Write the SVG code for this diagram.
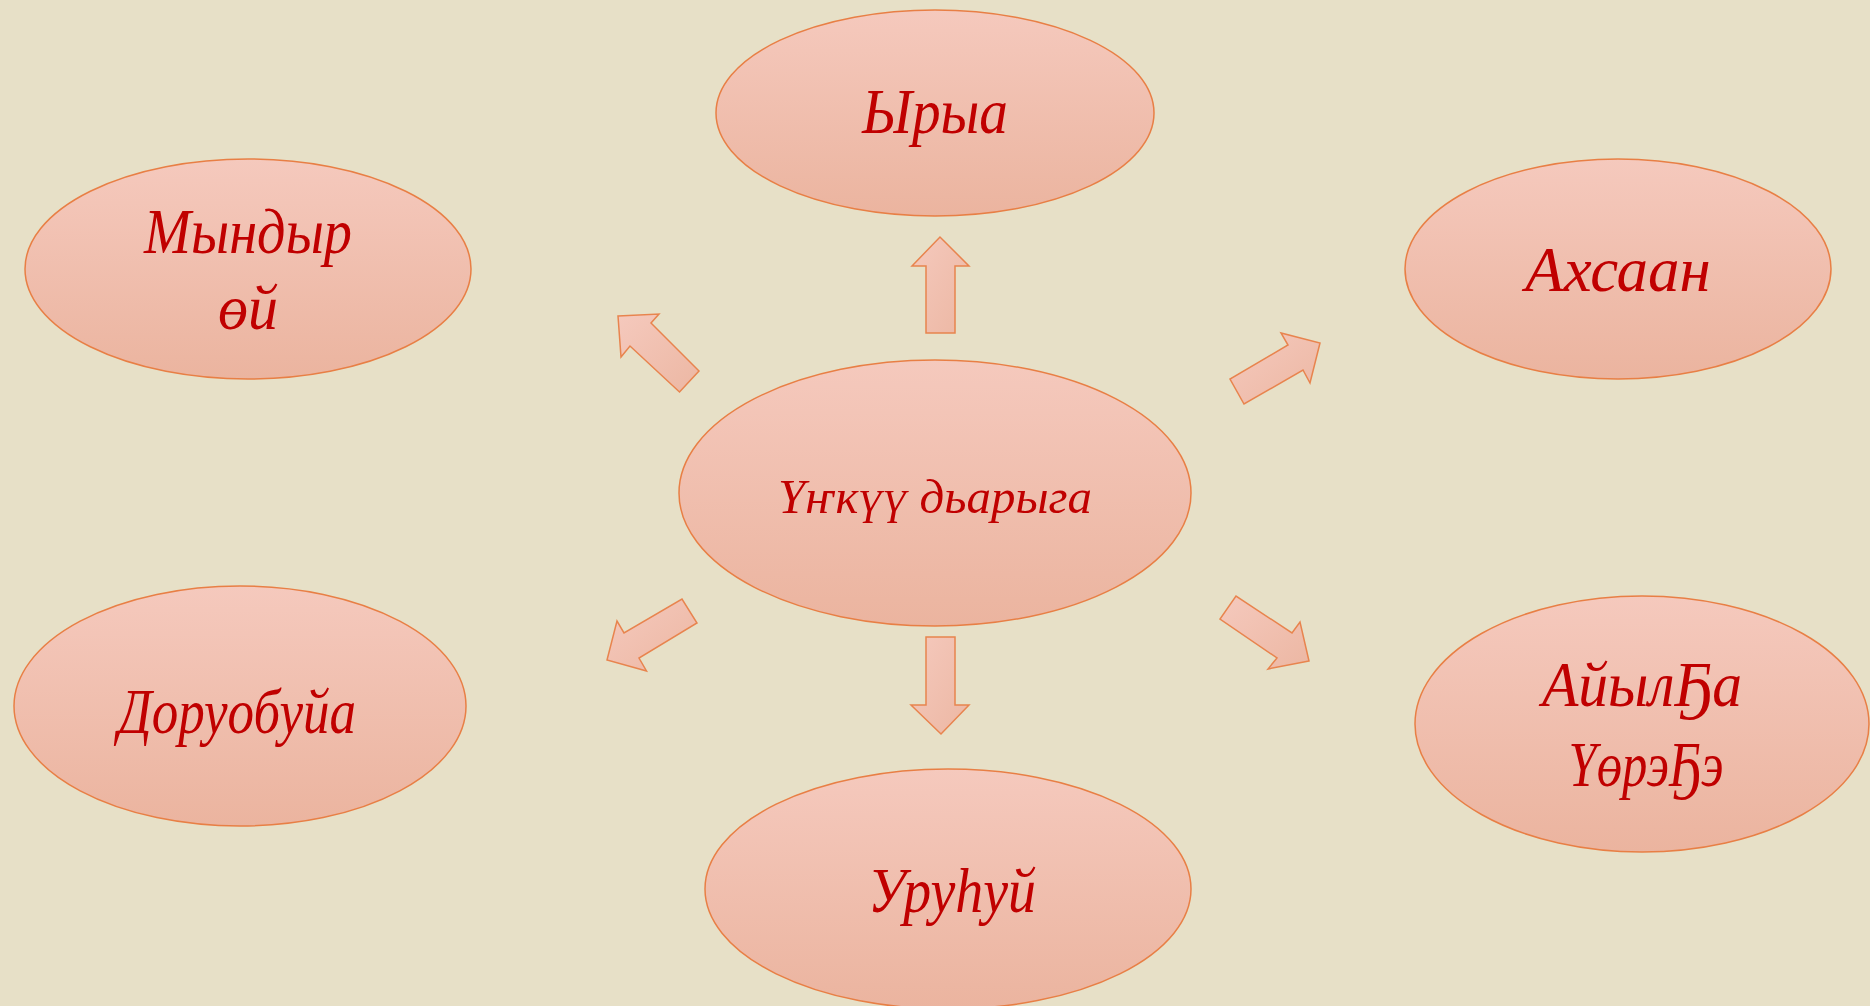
<svg xmlns="http://www.w3.org/2000/svg" width="1870" height="1006" viewBox="0 0 1870 1006">
<defs>
<linearGradient id="gEl" x1="0" y1="0" x2="0" y2="1">
<stop offset="0" stop-color="#F5C9BD"/>
<stop offset="1" stop-color="#EBB49F"/>
</linearGradient>
<linearGradient id="gAr" x1="0" y1="0" x2="1" y2="1">
<stop offset="0" stop-color="#F5C9BD"/>
<stop offset="1" stop-color="#ECB7A3"/>
</linearGradient>
<style>
.el{fill:url(#gEl);stroke:#E87F45;stroke-width:1.5}
.ar{fill:url(#gAr);stroke:#E8844E;stroke-width:1.5;stroke-linejoin:miter}
.t{font-family:"Liberation Serif","Times New Roman",serif;font-style:italic;fill:#C00000;text-anchor:middle}
.big{font-size:63px}
.mid{font-size:48px}
</style>
</defs>
<rect width="1870" height="1006" fill="#E7E0C7"/>
<g id="connectors">
<polygon class="ar" points="926,333 926,266 912,266 940,237 969,266 955,266 955,333"/>
<polygon class="ar" points="926,637 955,637 955,705 969,705 941,734 911,705 926,705"/>
<polygon class="ar" points="618,316 659,314 651,323 699,371 679.5,392 630,346 621,357"/>
<polygon class="ar" points="1320,343 1310,383 1303,370 1244,404 1230,379 1288,345 1281,333"/>
<polygon class="ar" points="607,660 617,621 624,633 682,599 697,623 639,658 646.5,671"/>
<polygon class="ar" points="1309,661 1268,669 1277,658 1220,619 1236,596 1292,633 1300,622"/>
</g>
<g id="node-center">
<ellipse class="el" cx="935" cy="493" rx="256" ry="133"/>
<text class="t mid" x="935" y="513" textLength="314" lengthAdjust="spacingAndGlyphs">Үҥкүү дьарыга</text>
</g>
<g id="node-top">
<ellipse class="el" cx="935" cy="113" rx="219" ry="103"/>
<text class="t big" x="935" y="133" textLength="146" lengthAdjust="spacingAndGlyphs">Ырыа</text>
</g>
<g id="node-upper-left">
<ellipse class="el" cx="248" cy="269" rx="223" ry="110"/>
<text class="t big" x="248" y="253" textLength="208" lengthAdjust="spacingAndGlyphs">Мындыр</text>
<text class="t big" x="248" y="329" textLength="60" lengthAdjust="spacingAndGlyphs">өй</text>
</g>
<g id="node-upper-right">
<ellipse class="el" cx="1618" cy="269" rx="213" ry="110"/>
<text class="t big" x="1618" y="291">Ахсаан</text>
</g>
<g id="node-lower-left">
<ellipse class="el" cx="240" cy="706" rx="226" ry="120"/>
<text class="t big" x="237" y="733" textLength="238" lengthAdjust="spacingAndGlyphs">Доруобуйа</text>
</g>
<g id="node-lower-right">
<ellipse class="el" cx="1642" cy="724" rx="227" ry="128"/>
<text class="t big" x="1642" y="706" textLength="200" lengthAdjust="spacingAndGlyphs">АйылҔа</text>
<text class="t big" x="1646" y="786" textLength="155" lengthAdjust="spacingAndGlyphs">ҮөрэҔэ</text>
</g>
<g id="node-bottom">
<ellipse class="el" cx="948" cy="889" rx="243" ry="120"/>
<text class="t big" x="952" y="912" textLength="168" lengthAdjust="spacingAndGlyphs">Уруһуй</text>
</g>
</svg>
